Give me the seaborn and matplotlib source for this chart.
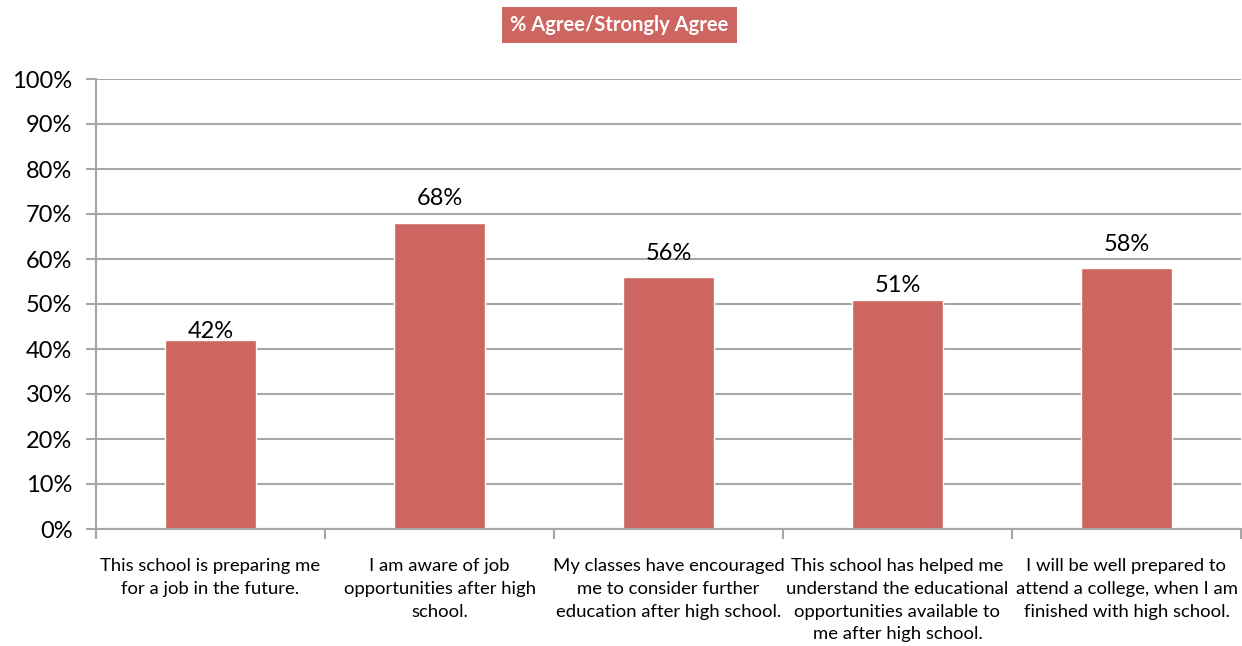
import matplotlib
matplotlib.use("Agg")
import matplotlib.pyplot as plt
import seaborn as sns
import pandas as pd
from matplotlib.ticker import FixedLocator, PercentFormatter

# Survey items and share answering agree / strongly agree
statements = [
    "This school is preparing me\nfor a job in the future.",
    "I am aware of job\nopportunities after high\nschool.",
    "My classes have encouraged\nme to consider further\neducation after high school.",
    "This school has helped me\nunderstand the educational\nopportunities available to\nme after high school.",
    "I will be well prepared to\nattend a college, when I am\nfinished with high school.",
]
agree_pct = [42, 68, 56, 51, 58]
value_labels = ["42%", "68%", "56%", "51%", "58%"]
y_ticks = list(range(0, 101, 10))
title_text = "% Agree/Strongly Agree"

# gap (in pixels) between each bar top and its value label baseline
label_gap_px = [2, 18, 17, 7, 17]

BAR = "#CD6660"
GRID = "#A6A6A6"

sns.set_theme(style="white")
plt.rcParams["font.family"] = ["Lato", "DejaVu Sans"]

df = pd.DataFrame({"statement": statements, "pct": agree_pct})

DPI = 100
fig = plt.figure(figsize=(12.42, 6.46), dpi=DPI)
ax = fig.add_axes([96 / 1242, 1 - 529 / 646, 1145 / 1242, 450 / 646])

sns.barplot(data=df, x="statement", y="pct", color=BAR, saturation=1,
            width=0.4, ax=ax, zorder=3)

ax.set_xlim(-0.5, len(statements) - 0.5)
ax.set_ylim(0, 100)
ax.set_xlabel("")
ax.set_ylabel("")

# y axis: percentage ticks with horizontal gridlines
ax.yaxis.set_major_locator(FixedLocator(y_ticks))
ax.yaxis.set_major_formatter(PercentFormatter(decimals=0))
ax.grid(axis="y", color=GRID, linewidth=1.5, zorder=0)
ax.grid(axis="x", visible=False)
ax.tick_params(axis="y", which="major", direction="out", length=7, width=1.5,
               color=GRID, labelsize=17, labelcolor="black", pad=10, left=True)

# x axis: labels under categories, separator ticks between them
ax.tick_params(axis="x", which="major", length=0, labelsize=13.3, pad=21,
               labelcolor="black")
ax.set_xticks(range(len(statements)))
ax.set_xticklabels(statements, linespacing=1.52, va="top", ha="center")
ax.set_xticks([i - 0.5 for i in range(len(statements) + 1)], minor=True)
ax.tick_params(axis="x", which="minor", direction="out", length=7, width=1.5,
               color=GRID, bottom=True)

for side in ["top", "right"]:
    ax.spines[side].set_visible(False)
for side in ["left", "bottom"]:
    ax.spines[side].set_color(GRID)
    ax.spines[side].set_linewidth(1.5)
    ax.spines[side].set_zorder(4)

# value labels above bars
for i, (v, lab) in enumerate(zip(agree_pct, value_labels)):
    ax.annotate(lab, xy=(i, v), xytext=(0, label_gap_px[i] * 72 / DPI),
                textcoords="offset points", ha="center", va="baseline",
                fontsize=17, color="black", zorder=5)

# title in a filled box
fig.text(619.5 / 1242, 1 - 25 / 646, title_text, ha="center", va="center",
         fontsize=14.5, fontweight="bold", color="white",
         bbox=dict(boxstyle="square,pad=0.4", facecolor=BAR, edgecolor="none"))

fig.savefig("out.png", dpi=DPI)
